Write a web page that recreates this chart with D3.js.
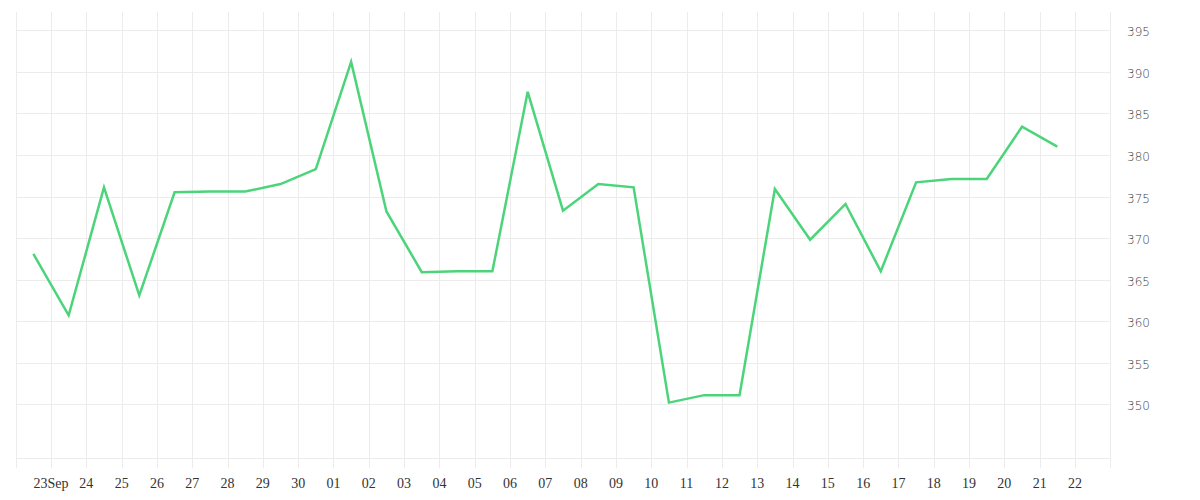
<!DOCTYPE html>
<html>
<head>
<meta charset="utf-8">
<script src="https://cdn.jsdelivr.net/npm/d3@7"></script>
<style>
  html, body { margin: 0; padding: 0; background: #fff; }
  svg { display: block; }
</style>
</head>
<body>
<svg id="chart" width="1200" height="500"></svg>
<script>
// ---- data ----
const dates = [
  "2023-09-22","2023-09-23","2023-09-24","2023-09-25","2023-09-26","2023-09-27",
  "2023-09-28","2023-09-29","2023-09-30","2023-10-01","2023-10-02","2023-10-03",
  "2023-10-04","2023-10-05","2023-10-06","2023-10-07","2023-10-08","2023-10-09",
  "2023-10-10","2023-10-11","2023-10-12","2023-10-13","2023-10-14","2023-10-15",
  "2023-10-16","2023-10-17","2023-10-18","2023-10-19","2023-10-20","2023-10-21"
];
const values = [
  368.1, 360.7, 376.1, 363.1, 375.5, 375.6,
  375.6, 376.5, 378.3, 391.2, 373.2, 365.9,
  366.0, 366.0, 387.6, 373.3, 376.5, 376.1,
  350.2, 351.1, 351.1, 375.9, 369.8, 374.1,
  366.0, 376.7, 377.1, 377.1, 383.4, 381.0
];
const yTicks = [350, 355, 360, 365, 370, 375, 380, 385, 390, 395];
const xDomain = ["2023-09-22", "2023-10-23"];
const yDomain = [343.5, 397.2];

// ---- layout ----
const svg = d3.select("#chart");
const mLeft = 15.7, mRight = 1110.3, mTop = 12, mBottom = 458.3;
const parse = d3.utcParse("%Y-%m-%d");

const x = d3.scaleUtc().domain(xDomain.map(parse)).range([mLeft, mRight]);
const y = d3.scaleLinear().domain(yDomain).range([mBottom, mTop]);

const dayTicks = d3.utcDay.range(parse(xDomain[0]), d3.utcDay.offset(parse(xDomain[1]), 1));
const gridColor = "#ececec";

// vertical grid lines (with tick extension)
svg.append("g").selectAll("line").data(dayTicks).join("line")
  .attr("x1", d => Math.round(x(d)) + 0.5).attr("x2", d => Math.round(x(d)) + 0.5)
  .attr("y1", mTop).attr("y2", mBottom + 10)
  .attr("stroke", gridColor).attr("stroke-width", 1);

// horizontal grid lines
svg.append("g").selectAll("line").data(yTicks).join("line")
  .attr("x1", mLeft).attr("x2", mRight)
  .attr("y1", d => Math.round(y(d)) + 0.5).attr("y2", d => Math.round(y(d)) + 0.5)
  .attr("stroke", gridColor).attr("stroke-width", 1);

// bottom border
svg.append("line")
  .attr("x1", mLeft).attr("x2", mRight)
  .attr("y1", Math.round(mBottom) + 0.5).attr("y2", Math.round(mBottom) + 0.5)
  .attr("stroke", gridColor);

// x labels
const fmtDay = d3.utcFormat("%d");
const labelDays = dayTicks.filter(d => d > parse(xDomain[0]) && d < parse(xDomain[1]));
svg.append("g").selectAll("text").data(labelDays).join("text")
  .attr("x", d => x(d)).attr("y", 488)
  .attr("text-anchor", "middle")
  .attr("font-family", "'Liberation Serif', serif")
  .attr("font-size", 14)
  .attr("fill", "#333")
  .text((d, i) => i === 0 ? fmtDay(d) + d3.utcFormat("%b")(d) : fmtDay(d));

// y labels
svg.append("g").selectAll("text").data(yTicks).join("text")
  .attr("x", 1127).attr("y", d => y(d) + 6)
  .attr("font-family", "'DejaVu Sans', sans-serif")
  .attr("font-size", 12)
  .attr("font-weight", 300)
  .attr("fill", "#444")
  .text(d => d);

// line
const data = dates.map((d, i) => ({ t: d3.utcHour.offset(parse(d), 12), v: values[i] }));
svg.append("path").datum(data)
  .attr("fill", "none")
  .attr("stroke", "#4cd47b")
  .attr("stroke-width", 2.5)
  .attr("stroke-linejoin", "miter")
  .attr("d", d3.line().x(d => x(d.t)).y(d => y(d.v)));
</script>
</body>
</html>
